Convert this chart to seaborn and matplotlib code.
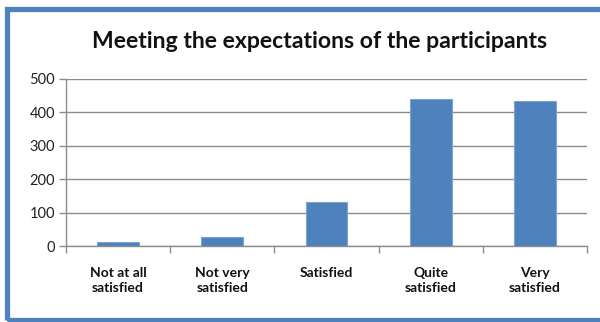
import matplotlib
matplotlib.use("Agg")
import matplotlib.pyplot as plt
import seaborn as sns
import pandas as pd
from matplotlib.patches import Rectangle

categories = ["Not at all\nsatisfied", "Not very\nsatisfied", "Satisfied", "Quite\nsatisfied", "Very\nsatisfied"]
values = [12, 26, 131, 441, 435]
yticks = [0, 100, 200, 300, 400, 500]
title = "Meeting the expectations of the participants"

sns.set_theme(style="white")
plt.rcParams['font.family'] = ['Lato', 'DejaVu Sans']

df = pd.DataFrame({"category": categories, "value": values})

fig = plt.figure(figsize=(6.0, 3.22), dpi=100)
ax = fig.add_axes([66/600, 1-246/322, (587-66)/600, (246-79)/322])

sns.barplot(data=df, x="category", y="value", color="#4f81bd", width=0.4,
            edgecolor="#7da3d1", linewidth=0.8, saturation=1, ax=ax, zorder=3)

ax.set_ylim(0, 500)
ax.set_xlim(-0.5, len(categories) - 0.5)
ax.set_yticks(yticks)
ax.set_yticklabels([str(t) for t in yticks], fontsize=10.5, color="#222222")
ax.yaxis.grid(True, color="#8c8c8c", linewidth=1.0, zorder=0)
ax.set_axisbelow(True)
ax.set_xlabel("")
ax.set_ylabel("")

for s in ["top", "right"]:
    ax.spines[s].set_visible(False)
for s in ["left", "bottom"]:
    ax.spines[s].set_color("#8c8c8c")
    ax.spines[s].set_linewidth(1.0)

ax.tick_params(axis="y", which="major", left=True, length=5, width=1, color="#8c8c8c", pad=3)
ax.set_xticks(range(len(categories)))
ax.set_xticklabels(categories, fontsize=10, fontweight="bold", color="#111111", linespacing=1.3)
ax.tick_params(axis="x", which="major", bottom=False, pad=9)
ax.set_xticks([i - 0.5 for i in range(len(categories) + 1)], minor=True)
ax.tick_params(axis="x", which="minor", bottom=True, length=5, width=1, color="#8c8c8c")

fig.text(320/600, 1-42/322, title, ha="center", va="center", fontsize=16.6, fontweight="bold", color="#111111")

border = Rectangle((7/600, 1-320/322), (610-7)/600, (320-8.5)/322, transform=fig.transFigure,
                   fill=False, edgecolor="#4f81bd", linewidth=3.8, clip_on=False)
fig.patches.append(border)

fig.savefig("out.png", dpi=100)
